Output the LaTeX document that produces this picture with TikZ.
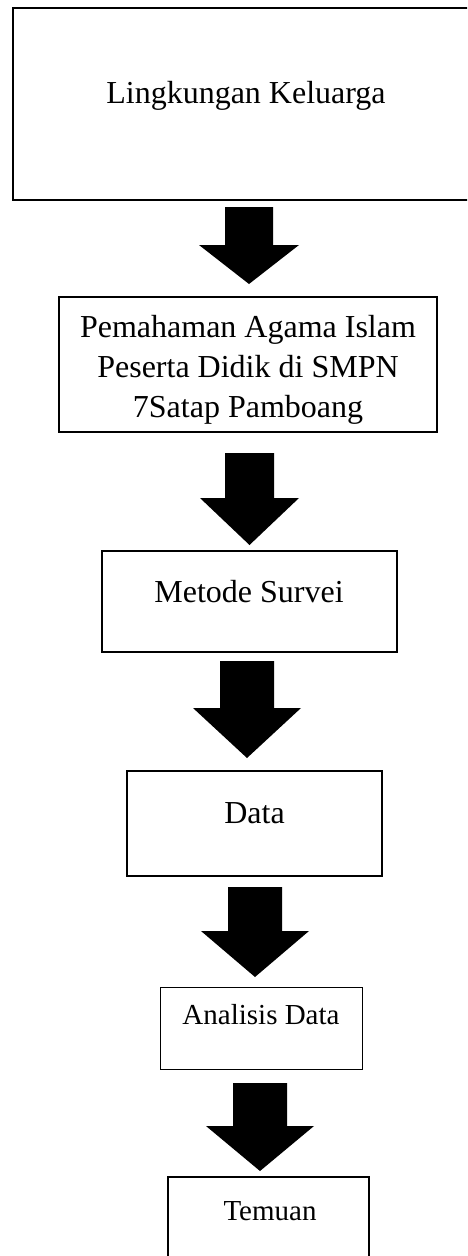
\documentclass[tikz,border=0pt]{standalone}
\usepackage{fontspec}
\setmainfont{Liberation Serif}
\begin{document}
\begin{tikzpicture}[x=1pt,y=-1pt,
  boxstyle/.style={draw=black,rectangle,inner sep=0pt,fill=none},
  txt/.style={inner sep=0pt,anchor=base,font=\fontsize{32}{40}\selectfont},
  txtsmall/.style={inner sep=0pt,anchor=base,font=\fontsize{29}{36}\selectfont},
  blockarrow/.style={fill=black,draw=none}]
\useasboundingbox (0,0) rectangle (467,1256);
\clip (0,0) rectangle (467,1256);
% boxes
\node[boxstyle,line width=2pt,minimum width=467pt,minimum height=192pt] (b1) at (246.5,104) {};
\node[boxstyle,line width=1.6pt,minimum width=378pt,minimum height=135pt] (b2) at (248,364.5) {};
\node[boxstyle,line width=2pt,minimum width=295pt,minimum height=101pt] (b3) at (249.5,601.5) {};
\node[boxstyle,line width=1.8pt,minimum width=255pt,minimum height=105pt] (b4) at (254.5,823.5) {};
\node[boxstyle,line width=1pt,minimum width=202pt,minimum height=82pt] (b5) at (261,1028) {};
\node[boxstyle,line width=2pt,minimum width=201pt,minimum height=100pt] (b6) at (268.5,1227) {};
% texts
\node[txt] (t1) at (246,103) {Lingkungan Keluarga};
\node[txt] (t2a) at (248,337) {Pemahaman Agama Islam};
\node[txt] (t2b) at (248,377) {Peserta Didik di SMPN};
\node[txt] (t2c) at (248,417) {7Satap Pamboang};
\node[txt] (t3) at (249,602) {Metode Survei};
\node[txt] (t4) at (254.5,823) {Data};
\node[txtsmall] (t5) at (261,1024) {Analisis Data};
\node[txtsmall] (t6) at (270,1220) {Temuan};
% block arrows
\fill[blockarrow] (225,207) -- (273,207) -- (273,245) -- (299,245) -- (249,284) -- (199,245) -- (225,245) -- cycle;
\fill[blockarrow] (225,453) -- (274,453) -- (274,498) -- (299,498) -- (249.5,545) -- (200,498) -- (225,498) -- cycle;
\fill[blockarrow] (220,661) -- (274,661) -- (274,708) -- (301,708) -- (247,758) -- (193,708) -- (220,708) -- cycle;
\fill[blockarrow] (228,887) -- (282,887) -- (282,931) -- (309,931) -- (255,977) -- (201,931) -- (228,931) -- cycle;
\fill[blockarrow] (233,1083) -- (287,1083) -- (287,1126) -- (314,1126) -- (260,1171) -- (206,1126) -- (233,1126) -- cycle;
\end{tikzpicture}
\end{document}
